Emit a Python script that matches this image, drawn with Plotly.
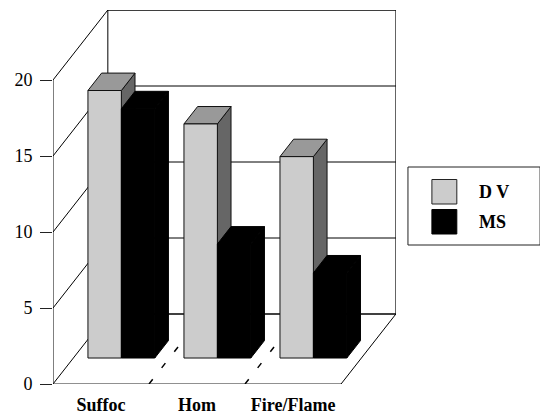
import plotly.graph_objects as go

categories = ["Suffoc", "Hom", "Fire/Flame"]
series_names = ["D V", "MS"]
dv_values = [17.6, 15.4, 13.25]
ms_values = [16.4, 7.5, 5.6]
y_ticks = [0, 5, 10, 15, 20]

# Oblique projection: how far the back wall sits from the front plane, in axis units
DX = 55 / 96.3
DY = 70 / 15.2
F_FRONT, F_BACK = 0.371, 0.62
BAR_W = 0.348
BAR_X0 = 0.152
FONT = "Liberation Serif"


def proj(x, v, f):
    return x + f * DX, v + f * DY


fig = go.Figure()


def poly(points, fill=None, line="black", width=1, dash=None):
    xs = [p[0] for p in points]
    ys = [p[1] for p in points]
    fig.add_trace(go.Scatter(
        x=xs, y=ys, mode="lines", fill="toself" if fill else None,
        fillcolor=fill, line=dict(color=line, width=width, dash=dash, shape="linear"),
        showlegend=False, hoverinfo="skip", cliponaxis=False))


n = len(categories)
vmax = y_ticks[-1]

# Back wall, side wall and floor
poly([proj(0, 0, 1), proj(0, vmax, 1), proj(n, vmax, 1), proj(n, 0, 1), proj(n, 0, 0)], width=1)
for v in y_ticks:
    poly([proj(0, v, 0), proj(0, v, 1)], width=1)
    poly([proj(0, v, 1), proj(n, v, 1)], width=1.6 if v == 0 else 1)
poly([(0, 0), (0, vmax)], width=1)
poly([(0, 0), (n, 0)], width=1.2, line="#222222")
for i in range(1, n):
    poly([proj(i, 0, 0), proj(i, 0, 1)], width=1.5, dash="6px,14.5px")

# Bars, painted back-to-front
for i in range(n):
    for k, (vals, front, top, side, edge) in enumerate([
        (dv_values, "#cccccc", "#999999", "#666666", "#111111"),
        (ms_values, "#000000", "#000000", "#000000", "#000000"),
    ]):
        x0 = i + BAR_X0 + k * BAR_W
        x1 = x0 + BAR_W
        v = vals[i]
        poly([proj(x1, 0, F_FRONT), proj(x1, v, F_FRONT), proj(x1, v, F_BACK), proj(x1, 0, F_BACK),
              proj(x1, 0, F_FRONT)], fill=side, line=edge)
        poly([proj(x0, v, F_FRONT), proj(x1, v, F_FRONT), proj(x1, v, F_BACK), proj(x0, v, F_BACK),
              proj(x0, v, F_FRONT)], fill=top, line=edge)
        poly([proj(x0, 0, F_FRONT), proj(x1, 0, F_FRONT), proj(x1, v, F_FRONT), proj(x0, v, F_FRONT),
              proj(x0, 0, F_FRONT)], fill=front, line=edge)

W, H = 540, 415
ML, MR, MT, MB = 52.5, 143.5, 10, 31


def px(x):
    return (x - ML) / (W - ML - MR)


def py(y):
    return (H - MB - y) / (H - MT - MB)


shapes = [
    dict(type="rect", xref="paper", yref="paper", x0=px(408.5), x1=px(541), y0=py(245), y1=py(167),
         line=dict(color="#222222", width=1), fillcolor="white"),
    dict(type="rect", xref="paper", yref="paper", x0=px(432.5), x1=px(457.5), y0=py(204), y1=py(179.5),
         line=dict(color="#222222", width=1), fillcolor="#cccccc"),
    dict(type="rect", xref="paper", yref="paper", x0=px(432.5), x1=px(457.5), y0=py(234), y1=py(209.5),
         line=dict(color="black", width=1), fillcolor="black"),
]
annotations = [
    dict(xref="paper", yref="paper", x=px(478), y=py(yy), text=f"<b>{name}</b>", showarrow=False,
         xanchor="left", yanchor="middle", font=dict(family=FONT, size=18, color="black"))
    for name, yy in zip(series_names, [192, 222])
]

fig.update_layout(
    width=W, height=H, autosize=False,
    margin=dict(l=ML, r=MR, t=MT, b=MB, pad=0),
    paper_bgcolor="white", plot_bgcolor="white",
    showlegend=False, shapes=shapes, annotations=annotations,
    font=dict(family=FONT, color="black"),
    xaxis=dict(range=[0, (396.5 - 52.5) / 96.3], tickvals=[0.5, 1.5, 2.5], ticktext=[f"<b>{c}</b>" for c in categories],
               showgrid=False, zeroline=False, showline=False, ticks="", tickangle=0,
               ticklabelstandoff=8, tickfont=dict(family=FONT, size=18, color="black"), automargin=False),
    yaxis=dict(range=[0, (384 - 10) / 15.2], tickvals=y_ticks, showgrid=False, zeroline=False, showline=False,
               ticks="outside", ticklen=12, tickwidth=1, tickcolor="#222222", ticklabelstandoff=4,
               tickfont=dict(family=FONT, size=18, color="black"), automargin=False),
)

fig.write_html("out.html", config={"displayModeBar": False},
               post_script="document.body.style.margin='0';document.body.style.overflow='hidden';")
